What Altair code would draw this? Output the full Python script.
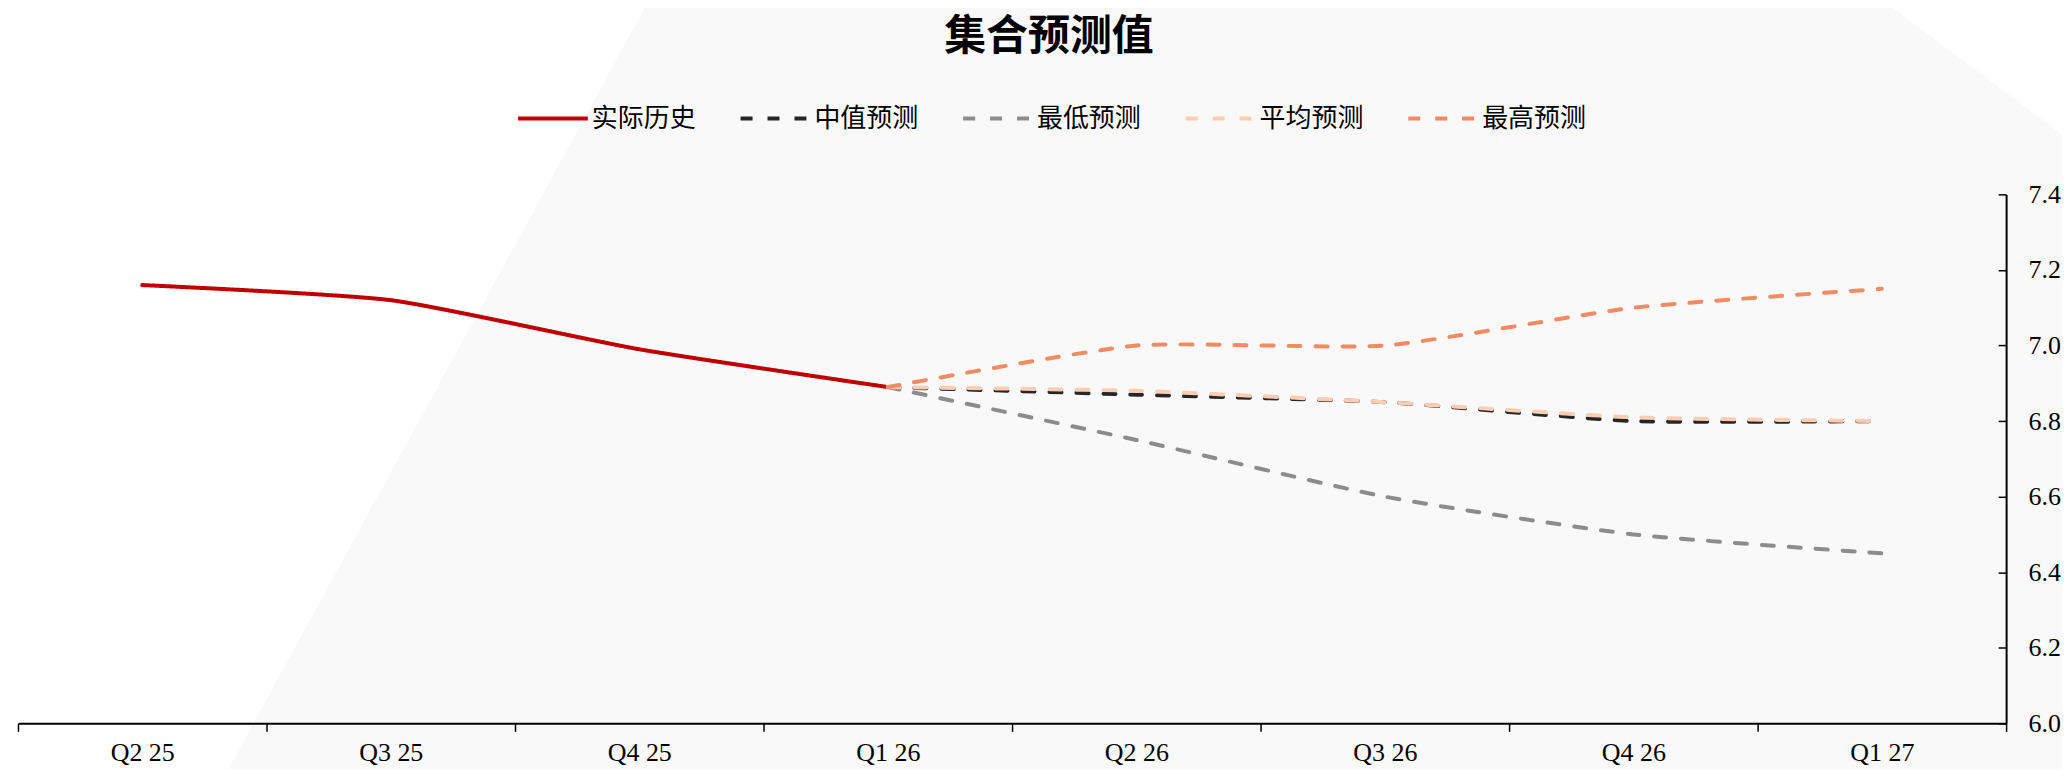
import altair as alt
import pandas as pd

# ---- data ----
quarters = ["Q2 25", "Q3 25", "Q4 25", "Q1 26", "Q2 26", "Q3 26", "Q4 26", "Q1 27"]
series_names = ["实际历史", "中值预测", "最低预测", "平均预测", "最高预测"]
actual = [7.16, 7.12, 6.99, 6.89, None, None, None, None]
median = [None, None, None, 6.89, 6.87, 6.85, 6.80, 6.80]
low = [None, None, None, 6.89, 6.75, 6.60, 6.50, 6.45]
mean = [None, None, None, 6.89, 6.88, 6.85, 6.81, 6.80]
high = [None, None, None, 6.89, 7.00, 7.00, 7.10, 7.15]
y_ticks = [6.0, 6.2, 6.4, 6.6, 6.8, 7.0, 7.2, 7.4]
title_text = "集合预测值"

series_values = [actual, median, low, mean, high]
colors = ["#C00000", "#262626", "#8C8C8C", "#FCCDB5", "#F28A62"]
dashes = [[1, 0], [12, 15], [12, 15], [12, 15], [12, 15]]

rows = []
for name, vals in zip(series_names, series_values):
    for q, v in zip(quarters, vals):
        if v is not None:
            rows.append({"季度": q, "系列": name, "值": v})
df = pd.DataFrame(rows)

W, H = 1992, 530
PAD = {"left": 10, "top": 186, "right": 56, "bottom": 46}
SERIF = "Liberation Serif"
CJK = "Noto Sans CJK SC"

x_scale = alt.Scale(type="band", domain=quarters, paddingInner=0, paddingOuter=0)
x_axis = alt.Axis(
    title=None, labelAngle=0, tickBand="extent", domainColor="black", domainWidth=2,
    tickColor="black", tickWidth=1.5, tickSize=8, labelPadding=8,
    labelFont=SERIF, labelFontSize=26, labelColor="black", labelOverlap=False, grid=False, zindex=2,
)
y_scale = alt.Scale(domain=[6.0, 7.4], nice=False, zero=False)

legend = alt.Legend(
    title=None, orient="none", legendX=499, legendY=-113, direction="horizontal",
    symbolType="stroke", symbolSize=4900, symbolStrokeWidth=4,
    labelFont=CJK, labelFontSize=26, labelColor="black", labelOffset=2,
    columnPadding=36, padding=0, zindex=2,
)

def series_layer(name):
    return alt.Chart(df).transform_filter(alt.datum["系列"] == name).mark_line(
        strokeWidth=4, strokeCap="round", interpolate="cardinal", tension=0.45
    ).encode(
        x=alt.X("季度:N", sort=quarters, scale=x_scale, axis=x_axis),
        y=alt.Y("值:Q", scale=y_scale, axis=alt.Axis(
            orient="right", title=None, values=y_ticks, format=".1f", ticks=False, tickSize=0,
            domainColor="black", domainWidth=2, labelFont=SERIF, labelFontSize=26,
            labelColor="black", labelPadding=22, labelFlush=False, labelOverlap=False, grid=False,
            zindex=2,
        )),
        color=alt.Color("系列:N", scale=alt.Scale(domain=series_names, range=colors), legend=legend),
        strokeDash=alt.StrokeDash("系列:N", scale=alt.Scale(domain=series_names, range=dashes), legend=legend),
    )

lines = alt.layer(*[series_layer(n) for n in series_names])

# inward ticks on the right-hand value axis
tick_layer = alt.Chart(df).mark_point(opacity=0).encode(
    x=alt.X("季度:N", sort=quarters, scale=x_scale, axis=x_axis),
    y=alt.Y("值:Q", scale=y_scale, axis=alt.Axis(
        orient="left", offset=-W, labels=False, domain=False, ticks=True, tickSize=8,
        tickColor="black", tickWidth=1.5, grid=False, title=None, values=y_ticks, zindex=2,
    )),
)

# light diagonal background decoration
bg_src = pd.DataFrame({"bg": [0]})
bg_main = alt.Chart(bg_src).mark_rect(
    strokeWidth=0,
    fill={"gradient": "linear", "x1": 0, "y1": 0, "x2": 1, "y2": 0.2034,
          "stops": [{"offset": 0, "color": "#ffffff"}, {"offset": 0.3015, "color": "#ffffff"},
                    {"offset": 0.3015, "color": "#f9f9f9"}, {"offset": 1, "color": "#f9f9f9"}]},
).encode(x=alt.value(-18), x2=alt.value(2052), y=alt.value(-194), y2=alt.value(576))
bg_corner = alt.Chart(bg_src).mark_rect(
    strokeWidth=0,
    fill={"gradient": "linear", "x1": 0, "y1": 1, "x2": 1, "y2": 0,
          "stops": [{"offset": 0, "color": "rgba(255,255,255,0)"}, {"offset": 0.5, "color": "rgba(255,255,255,0)"},
                    {"offset": 0.5, "color": "#ffffff"}, {"offset": 1, "color": "#ffffff"}]},
).encode(x=alt.value(1869), x2=alt.value(2052), y=alt.value(-194), y2=alt.value(-57))

chart = alt.layer(bg_main, bg_corner, lines, tick_layer).resolve_scale(y="independent").properties(
    width=W, height=H, padding=PAD, autosize=alt.AutoSizeParams(type="none"),
    title=alt.TitleParams(title_text, font=CJK, fontSize=42, fontWeight="bold", color="black",
                          anchor="middle", dx=37, offset=-100, baseline="bottom", zindex=2),
    background="white",
).configure_view(stroke=None)

chart.save("out.html", embed_options={"renderer": "svg", "actions": False})
